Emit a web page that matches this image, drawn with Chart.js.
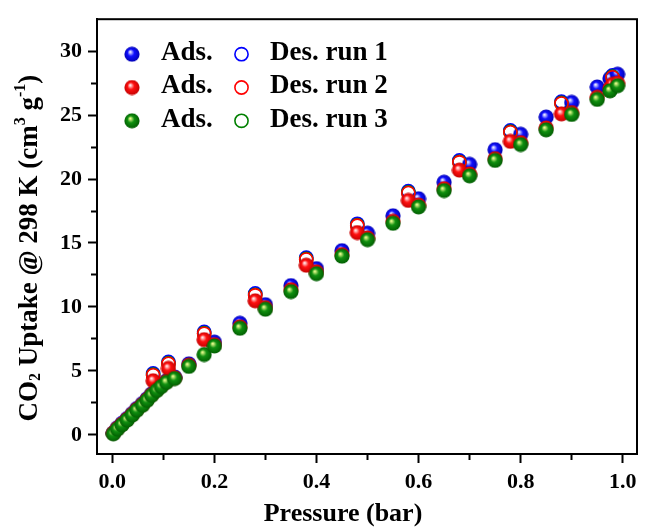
<!DOCTYPE html>
<html>
<head>
<meta charset="utf-8">
<script src="https://cdn.jsdelivr.net/npm/chart.js@4.4.0/dist/chart.umd.min.js"></script>
<style>
  html, body { margin: 0; padding: 0; background: #fff; }
</style>
</head>
<body>
<canvas id="uptakeChart" width="646" height="528"></canvas>
<script>
// ---- data ----
// adsorption, run 1 (blue)
const ads1Pressure = [0.002, 0.01, 0.019, 0.029, 0.039, 0.048, 0.059, 0.068, 0.077, 0.087, 0.096, 0.106, 0.122,
  0.15, 0.20, 0.25, 0.30, 0.35, 0.40, 0.45, 0.50, 0.55, 0.60, 0.65, 0.70, 0.75, 0.80, 0.85, 0.90, 0.95, 0.975, 0.99];
const ads1Uptake = [0.15, 0.55, 0.9, 1.27, 1.66, 2.05, 2.44, 2.82, 3.2, 3.58, 3.9, 4.22, 4.52,
  5.55, 7.25, 8.72, 10.18, 11.67, 13.0, 14.4, 15.77, 17.13, 18.46, 19.75, 21.15, 22.3, 23.5, 24.85, 26.0, 27.2, 27.87, 28.2];

// adsorption, run 2 (red)
const ads2Pressure = [0.002, 0.01, 0.019, 0.029, 0.039, 0.048, 0.059, 0.068, 0.077, 0.08, 0.087, 0.096, 0.106, 0.11, 0.122,
  0.15, 0.18, 0.20, 0.25, 0.28, 0.30, 0.35, 0.38, 0.40, 0.45, 0.48, 0.50, 0.55, 0.58, 0.60, 0.65, 0.68, 0.70,
  0.75, 0.78, 0.80, 0.85, 0.88, 0.90, 0.95, 0.975, 0.98, 0.99];
const ads2Uptake = [0.14, 0.5, 0.84, 1.21, 1.6, 1.98, 2.37, 2.75, 3.14, 4.23, 3.52, 3.83, 4.16, 5.2, 4.46,
  5.45, 7.44, 7.05, 8.45, 10.48, 9.95, 11.35, 13.26, 12.75, 14.1, 15.82, 15.4, 16.7, 18.33, 17.97, 19.25, 20.7, 20.4,
  21.6, 22.95, 22.85, 24.0, 25.1, 25.2, 26.4, 27.1, 27.4, 27.5];

// adsorption, run 3 (green)
const ads3Pressure = [0.002, 0.01, 0.019, 0.029, 0.039, 0.048, 0.059, 0.068, 0.077, 0.087, 0.096, 0.106, 0.122,
  0.15, 0.18, 0.20, 0.25, 0.30, 0.35, 0.40, 0.45, 0.50, 0.55, 0.60, 0.65, 0.70, 0.75, 0.80, 0.85, 0.90, 0.95, 0.975, 0.99];
const ads3Uptake = [0.08, 0.44, 0.78, 1.15, 1.54, 1.92, 2.31, 2.69, 3.08, 3.46, 3.77, 4.1, 4.4,
  5.35, 6.28, 6.95, 8.33, 9.82, 11.2, 12.6, 13.97, 15.26, 16.54, 17.82, 19.1, 20.25, 21.46, 22.7, 23.85, 25.05, 26.23, 26.9, 27.3];

// desorption, all runs share the same pressures
const desPressure = [0.08, 0.11, 0.18, 0.28, 0.38, 0.48, 0.58, 0.68, 0.78, 0.88, 0.98];
const des1Uptake = [4.8, 5.7, 8.05, 11.05, 13.85, 16.5, 19.05, 21.45, 23.8, 26.05, 28.1];
const des2Uptake = [4.65, 5.55, 7.9, 10.9, 13.7, 16.35, 18.9, 21.3, 23.65, 25.9, 27.95];
const des3Uptake = [4.7, 5.6, 7.95, 10.95, 13.75, 16.4, 18.95, 21.35, 23.7, 25.95, 28.0];

// tick positions and labels
const xTickValues = [0, 0.1, 0.2, 0.3, 0.4, 0.5, 0.6, 0.7, 0.8, 0.9, 1.0];
const xTickLabels = ['0.0', '', '0.2', '', '0.4', '', '0.6', '', '0.8', '', '1.0'];
const yTickValues = [0, 2.5, 5, 7.5, 10, 12.5, 15, 17.5, 20, 22.5, 25, 27.5, 30];
const yTickLabels = ['0', '', '5', '', '10', '', '15', '', '20', '', '25', '', '30'];

// axis titles (y title split for the sub/superscripts)
const xTitle = 'Pressure (bar)';
const yTitleParts = [
  { t: 'CO' }, { t: '2', sub: true }, { t: ' Uptake @ 298 K (cm' }, { t: '3', sup: true },
  { t: ' g' }, { t: '-1', sup: true }, { t: ')' }
];

const SERIF = '"Liberation Serif", "Times New Roman", serif';

// shaded ball used as the filled marker
function makeBall(light, base, dark) {
  const c = document.createElement('canvas');
  c.width = 16; c.height = 16;
  const g = c.getContext('2d');
  const grad = g.createRadialGradient(6.2, 5.6, 0.4, 8, 8, 8);
  grad.addColorStop(0, light);
  grad.addColorStop(0.4, base);
  grad.addColorStop(1, dark);
  g.fillStyle = grad;
  g.beginPath();
  g.arc(8, 8, 7.6, 0, Math.PI * 2);
  g.fill();
  return c;
}

const blueBall = makeBall('#f0f0ff', '#1010ff', '#0000b0');
const redBall = makeBall('#fff0f0', '#ff1010', '#c00000');
const greenBall = makeBall('#f0ff90', '#109010', '#005a00');

const toPoints = (xs, ys) => xs.map((x, i) => ({ x: x, y: ys[i] }));

function adsSet(label, ball, xs, ys, order) {
  return {
    label: label,
    data: toPoints(xs, ys),
    pointStyle: ball,
    pointRadius: 8,
    pointHoverRadius: 8,
    order: order
  };
}

function desSet(label, color, ys, order) {
  return {
    label: label,
    data: toPoints(desPressure, ys),
    pointStyle: 'circle',
    pointRadius: 6.6,
    pointHoverRadius: 6.6,
    pointBorderWidth: 1.6,
    pointBorderColor: color,
    pointBackgroundColor: 'rgba(0,0,0,0)',
    borderColor: color,
    order: order
  };
}

const datasets = [
  adsSet('Ads.', blueBall, ads1Pressure, ads1Uptake, 5),
  desSet('Des. run 1', '#0000ff', des1Uptake, 6),
  adsSet('Ads.', redBall, ads2Pressure, ads2Uptake, 2),
  desSet('Des. run 2', '#ff0000', des2Uptake, 3),
  adsSet('Ads.', greenBall, ads3Pressure, ads3Uptake, 1),
  desSet('Des. run 3', '#008000', des3Uptake, 4)
];

// legend in two columns: ads | des, one row per run
const pairLegend = {
  id: 'pairLegend',
  afterDraw(chart) {
    const ctx = chart.ctx;
    const area = chart.chartArea;
    const ds = chart.data.datasets;
    ctx.save();
    ctx.font = 'bold 27px ' + SERIF;
    ctx.fillStyle = '#000';
    ctx.textBaseline = 'middle';
    for (let r = 0; r < 3; r++) {
      const ads = ds[r * 2];
      const des = ds[r * 2 + 1];
      const y = area.top + 34 + r * 33.3;
      const img = ads.pointStyle;
      ctx.drawImage(img, area.left + 35 - img.width / 2, y + 1 - img.height / 2);
      ctx.fillText(ads.label, area.left + 64, y);
      ctx.beginPath();
      ctx.arc(area.left + 144.5, y + 1, 6.6, 0, Math.PI * 2);
      ctx.lineWidth = 1.6;
      ctx.strokeStyle = des.borderColor;
      ctx.stroke();
      ctx.fillText(des.label, area.left + 173, y);
    }
    ctx.restore();
  }
};

// closed box around the plot, plus the axis titles
const frameAndTitles = {
  id: 'frameAndTitles',
  afterDraw(chart) {
    const a = chart.chartArea;
    const ctx = chart.ctx;
    const sx = chart.scales.x, sy = chart.scales.y;
    ctx.save();
    ctx.lineWidth = 2;
    ctx.strokeStyle = '#000';
    ctx.strokeRect(a.left, a.top, a.right - a.left, a.bottom - a.top);

    ctx.fillStyle = '#000';
    ctx.textBaseline = 'middle';
    ctx.textAlign = 'center';
    ctx.font = 'bold 26px ' + SERIF;
    ctx.fillText(xTitle, sx.getPixelForValue(0.452), chart.height - 14);

    const big = 'bold 27px ' + SERIF;
    const small = 'bold 16px ' + SERIF;
    let total = 0;
    const widths = yTitleParts.map(p => {
      ctx.font = (p.sub || p.sup) ? small : big;
      const w = ctx.measureText(p.t).width;
      total += w;
      return w;
    });
    ctx.translate(30, sy.getPixelForValue(14.6));
    ctx.rotate(-Math.PI / 2);
    ctx.textAlign = 'left';
    let x = -total / 2;
    yTitleParts.forEach((p, i) => {
      ctx.font = (p.sub || p.sup) ? small : big;
      const dy = p.sub ? 6 : (p.sup ? -9 : 0);
      ctx.fillText(p.t, x, dy);
      x += widths[i];
    });
    ctx.restore();
  }
};

const ctx = document.getElementById('uptakeChart').getContext('2d');
new Chart(ctx, {
  type: 'scatter',
  data: { datasets: datasets },
  options: {
    responsive: false,
    animation: false,
    layout: { padding: { top: 13, right: 2, left: 0, bottom: 0 } },
    plugins: {
      legend: { display: false },
      tooltip: { enabled: false }
    },
    scales: {
      x: {
        type: 'linear',
        min: -0.03,
        max: 1.028,
        afterBuildTicks: s => { s.ticks = xTickValues.map(v => ({ value: v })); },
        afterFit: s => { s.height = 74; },
        border: { display: true, color: '#000', width: 2 },
        grid: {
          drawOnChartArea: false,
          tickLength: 9,
          tickWidth: 2,
          tickColor: '#000',
          // minor ticks come out shorter
          tickBorderDash: c => (xTickLabels[c.index] === '' ? [5, 20] : [])
        },
        ticks: {
          autoSkip: false,
          maxRotation: 0,
          padding: 6,
          color: '#000',
          font: { family: SERIF, size: 22, weight: 'bold' },
          callback: (v, i) => xTickLabels[i]
        },
        title: { display: false }
      },
      y: {
        type: 'linear',
        min: -1.5,
        max: 32.5,
        afterBuildTicks: s => { s.ticks = yTickValues.map(v => ({ value: v })); },
        afterFit: s => { s.width = 97; },
        border: { display: true, color: '#000', width: 2 },
        grid: {
          drawOnChartArea: false,
          tickLength: 9,
          tickWidth: 2,
          tickColor: '#000',
          tickBorderDash: c => (yTickLabels[c.index] === '' ? [0, 3, 5, 20] : [])
        },
        ticks: {
          autoSkip: false,
          padding: 6,
          color: '#000',
          font: { family: SERIF, size: 22, weight: 'bold' },
          callback: (v, i) => yTickLabels[i]
        },
        title: { display: false }
      }
    }
  },
  plugins: [pairLegend, frameAndTitles]
});
</script>
</body>
</html>
